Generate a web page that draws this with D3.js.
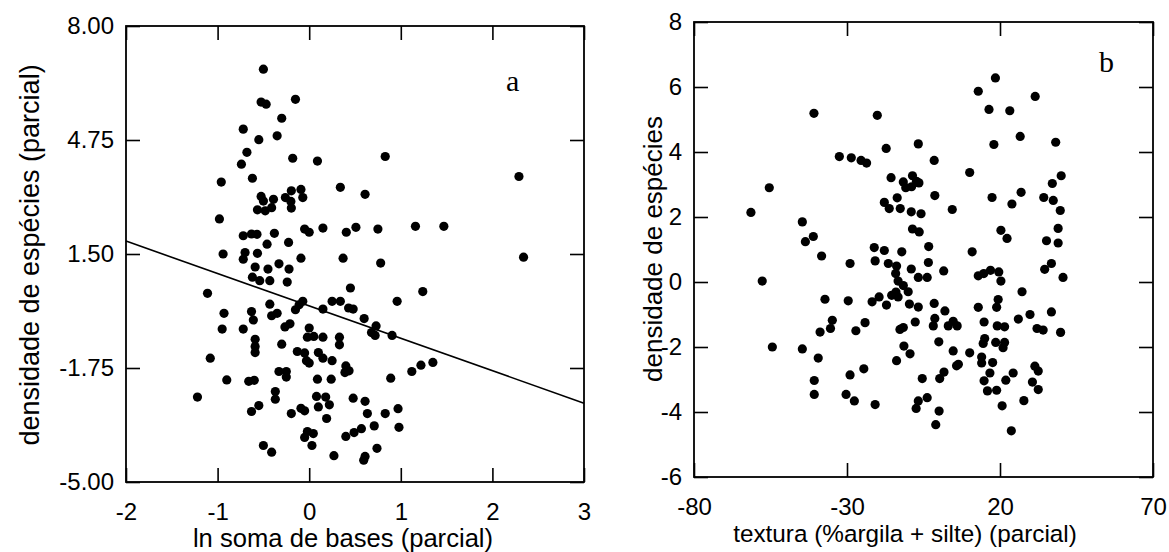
<!DOCTYPE html>
<html lang="pt">
<head>
<meta charset="UTF-8">
<title>Densidade de espécies - parcial</title>
<style>
  body { margin: 0; background: #fff; }
  svg text { font-family: "Liberation Sans", Arial, sans-serif; fill: #000; }
</style>
</head>
<body>
<div id="chart"></div>
<script src="https://d3js.org/d3.v7.min.js"></script>
<script>
// panel a: ln soma de bases (parcial) vs densidade de especies (parcial)
var basesX = [-0.50,-0.525,-0.47,-0.15,-0.30,-0.72,-0.55,-0.35,-0.68,-0.74,-0.18,0.09,-0.62,-0.96,0.34,
  -0.525,-0.50,-0.39,-0.41,-0.565,-0.48,-0.26,-0.195,-0.20,-0.195,-0.09,-0.07,-0.98,-0.72,-0.63,-0.57,
  -0.38,-0.46,-0.225,-0.05,0.0,0.15,0.405,0.83,0.61,2.29,0.51,0.75,1.16,1.47,
  -0.94,-0.70,-0.72,-0.565,-0.09,0.37,-0.59,-0.45,-0.33,-0.22,-0.62,-0.54,-0.43,-0.24,-1.11,-0.43,
  -0.07,-0.11,-0.15,0.15,0.25,0.34,0.43,-0.93,-0.63,-0.61,-0.41,-0.35,-0.95,-0.72,-0.265,-0.21,
  0.0,-0.02,0.05,0.15,0.33,0.33,-0.59,-0.59,-0.59,-0.30,-0.13,-0.05,-0.03,0.0,0.10,0.15,0.25,0.40,0.39,
  -1.08,-0.33,-0.25,-0.25,-0.90,-0.66,-0.60,0.09,0.24,-1.22,-0.37,-0.37,0.08,0.18,0.10,0.22,-0.55,-0.63,
  -0.195,-0.09,-0.05,0.19,-0.02,0.045,-0.05,0.03,0.40,-0.50,-0.41,0.27,
  0.78,2.34,0.45,1.24,0.96,0.48,0.60,0.73,0.68,0.72,0.905,0.435,1.12,1.22,1.35,0.89,0.48,0.61,0.635,
  0.83,0.97,0.71,0.98,0.49,0.57,0.74,0.61,0.595];
var densA = [6.77,5.83,5.77,5.91,5.37,5.06,4.76,4.87,4.40,4.06,4.23,4.15,3.66,3.55,3.40,
  3.14,3.01,3.06,2.82,2.76,2.73,3.11,3.30,3.00,2.81,3.34,3.11,2.50,2.02,2.07,2.06,
  2.09,1.78,1.83,2.21,2.12,2.24,2.12,4.28,3.20,3.71,2.26,2.21,2.29,2.29,
  1.50,1.54,1.35,1.52,1.38,1.38,1.13,1.07,1.22,1.07,0.84,0.74,0.74,0.70,0.38,0.07,
  0.15,0.05,-0.09,-0.07,0.15,0.15,-0.04,-0.19,-0.14,-0.38,-0.26,-0.19,-0.64,-0.64,-0.58,-0.49,
  -0.61,-0.87,-0.85,-0.87,-0.87,-1.09,-0.93,-1.14,-1.31,-1.07,-1.28,-1.32,-1.54,-1.61,-1.31,-1.47,-1.54,-1.69,-1.88,
  -1.47,-1.85,-1.85,-2.01,-2.09,-2.13,-2.10,-2.07,-2.07,-2.58,-2.42,-2.64,-2.56,-2.58,-2.86,-2.80,-2.82,-2.99,
  -3.05,-2.90,-2.97,-3.19,-3.56,-3.62,-3.73,-3.96,-3.70,-3.96,-4.15,-4.25,
  1.24,1.41,0.53,0.43,0.15,-0.07,-0.34,-0.55,-0.74,-0.82,-0.82,-1.83,-1.85,-1.67,-1.59,-2.04,-2.61,-2.70,-3.05,
  -3.05,-2.91,-3.40,-3.44,-3.59,-3.48,-4.04,-4.27,-4.38];
var fitIntercept = 0.02, fitSlope = -0.924;
var ticksAx = [-2, -1, 0, 1, 2, 3];
var ticksAy = [-5, -1.75, 1.5, 4.75, 8];

// panel b: textura (%argila + silte) (parcial) vs densidade de especies
var texturaX = [-40.8,-20.1,-6.7,-17.2,-32.5,-28.6,-25.4,-23.6,-55.4,-15.6,-11.6,-8.6,-7.3,-10.8,-8.9,-6.5,
  -61.4,-17.8,-16.2,-12.6,-13.6,-9.0,-5.8,-44.6,-41.0,-43.6,-8.6,-6.4,-21.1,-17.8,-12.1,-3.3,
  18.5,12.9,31.5,16.4,23.2,26.6,18.0,38.2,-1.5,10.1,37.1,40.0,-1.3,17.4,23.9,26.9,34.3,37.4,39.7,4.4,
  20.3,22.3,39.0,35.2,39.0,10.9,
  -38.3,-29.0,-20.8,-16.5,-13.8,-14.1,-13.3,-9.0,-6.7,-3.8,-3.4,-57.7,-11.6,-14.0,-10.0,-13.3,-15.4,
  -37.2,-29.6,-21.8,-19.5,-17.1,-9.6,-6.7,-34.8,-35.4,-38.8,-24.1,-27.1,-12.7,-11.6,-7.7,-54.4,-44.6,
  -39.4,-11.4,-9.4,-13.8,-24.5,-29.0,-40.7,-40.7,-30.3,-27.6,-20.8,-5.4,-6.7,-7.4,-3.8,
  1.6,12.9,14.7,16.9,19.6,20.3,34.6,36.8,40.6,27.2,-1.5,2.0,12.9,18.9,19.4,-1.3,-1.8,3.1,4.7,6.0,14.8,
  19.1,21.5,26.0,29.8,36.8,32.1,34.1,39.8,0.0,4.7,10.1,15.0,14.5,18.6,21.5,21.0,14.0,14.0,17.6,5.8,6.4,
  0.3,1.7,16.7,14.8,24.3,21.9,31.4,32.5,30.6,32.5,15.9,18.9,0.1,27.8,20.7,-1.0,23.7];
var densB = [5.19,5.13,4.25,4.11,3.86,3.82,3.74,3.66,2.90,3.21,3.08,3.27,3.10,2.90,2.93,3.05,
  2.14,2.45,2.26,2.26,2.59,2.16,2.10,1.85,1.40,1.24,1.63,1.54,1.06,0.97,0.93,1.09,
  6.28,5.87,5.71,5.31,5.27,4.48,4.23,4.30,3.74,3.37,3.03,3.27,2.66,2.60,2.40,2.76,2.60,2.51,2.20,2.23,
  1.59,1.34,1.65,1.27,1.20,0.93,
  0.80,0.57,0.65,0.57,0.49,0.26,0.03,0.40,0.14,0.14,0.60,0.03,-0.11,-0.31,-0.30,-0.46,-0.41,
  -0.53,-0.58,-0.61,-0.46,-0.71,-0.68,-0.77,-1.18,-1.43,-1.54,-1.25,-1.50,-1.46,-1.40,-1.23,-2.00,-2.06,
  -2.34,-1.97,-2.21,-2.42,-2.67,-2.86,-3.03,-3.46,-3.46,-3.66,-3.77,-2.97,-3.66,-3.89,-3.56,
  0.34,0.19,0.26,0.36,0.31,0.03,0.39,0.57,0.14,-0.30,-0.66,-0.89,-0.78,-0.78,-0.54,-1.12,-1.35,-1.35,-1.21,-1.35,-1.23,
  -1.35,-1.38,-1.14,-1.00,-0.92,-1.43,-1.48,-1.55,-1.84,-2.12,-2.18,-1.74,-1.89,-1.86,-1.86,-2.02,-2.31,-2.49,-2.48,-2.58,-2.53,
  -2.97,-2.77,-2.80,-3.04,-2.80,-3.02,-2.59,-2.74,-3.08,-3.31,-3.35,-3.33,-3.97,-3.65,-3.81,-4.39,-4.58];
var ticksBx = [-80, -30, 20, 70];
var ticksBy = [-6, -4, -2, 0, 2, 4, 6, 8];

// plain hyphen as minus sign, like the original
var loc = d3.formatLocale({ decimal: ".", thousands: ",", grouping: [3], currency: ["", ""], minus: "-" });

var W = 1169, H = 552;
var svg = d3.select("#chart").append("svg")
  .attr("width", W).attr("height", H);

function panel(opt) {
  var x = d3.scaleLinear().domain(opt.xDomain).range([opt.left, opt.right]);
  var y = d3.scaleLinear().domain(opt.yDomain).range([opt.bottom, opt.top]);
  var g = svg.append("g");
  var tick = 14;

  // inner ticks on all four sides, labels only bottom/left
  g.append("g")
    .attr("transform", "translate(0," + opt.bottom + ")")
    .call(d3.axisBottom(x).tickValues(opt.xTicks).tickSizeInner(-tick).tickSizeOuter(0).tickPadding(21).tickFormat(opt.xFmt));
  g.append("g")
    .attr("transform", "translate(0," + opt.top + ")")
    .call(d3.axisTop(x).tickValues(opt.xTicks).tickSizeInner(-tick).tickSizeOuter(0).tickFormat(""));
  g.append("g")
    .attr("transform", "translate(" + opt.left + ",0)")
    .call(d3.axisLeft(y).tickValues(opt.yTicks).tickSizeInner(-tick).tickSizeOuter(0).tickPadding(12).tickFormat(opt.yFmt));
  g.append("g")
    .attr("transform", "translate(" + opt.right + ",0)")
    .call(d3.axisRight(y).tickValues(opt.yTicks).tickSizeInner(-tick).tickSizeOuter(0).tickFormat(""));

  g.selectAll(".domain").remove();
  g.selectAll(".tick line").attr("stroke", "#000").attr("stroke-width", 1.6);
  g.selectAll(".tick text").style("font-size", "24px");

  g.append("rect")
    .attr("x", opt.left).attr("y", opt.top)
    .attr("width", opt.right - opt.left).attr("height", opt.bottom - opt.top)
    .attr("fill", "none").attr("stroke", "#000").attr("stroke-width", 1.8);

  g.selectAll("circle.pt")
    .data(d3.zip(opt.xs, opt.ys))
    .enter().append("circle")
    .attr("class", "pt")
    .attr("cx", function (d) { return x(d[0]); })
    .attr("cy", function (d) { return y(d[1]); })
    .attr("r", 4.6)
    .attr("fill", "#000");

  g.append("text")
    .attr("x", opt.xLabelX).attr("y", opt.bottom + 65)
    .attr("text-anchor", "middle").style("font-size", opt.xLabelSize + "px")
    .text(opt.xLabel);
  g.append("text")
    .attr("transform", "translate(" + opt.yLabelX + "," + opt.yLabelY + ") rotate(-90)")
    .attr("text-anchor", "middle").style("font-size", opt.yLabelSize + "px")
    .text(opt.yLabel);
  g.append("text")
    .attr("x", opt.letterX).attr("y", opt.letterY)
    .style("font-family", "'Liberation Serif', 'Times New Roman', serif")
    .style("font-size", "30px")
    .text(opt.letter);

  return { x: x, y: y, g: g };
}

var pa = panel({
  left: 126, right: 584, top: 26, bottom: 482,
  xDomain: [-2, 3], yDomain: [-5, 8],
  xTicks: ticksAx, yTicks: ticksAy,
  xFmt: loc.format("d"), yFmt: loc.format(".2f"),
  xs: basesX, ys: densA,
  xLabel: "ln soma de bases (parcial)", xLabelX: 343, xLabelSize: 25.6,
  yLabel: "densidade de espécies (parcial)", yLabelX: 39, yLabelY: 255, yLabelSize: 27,
  letter: "a", letterX: 506, letterY: 91
});

// regression line for panel a
var lineA = d3.line()
  .x(function (d) { return pa.x(d); })
  .y(function (d) { return pa.y(fitIntercept + fitSlope * d); });
pa.g.append("path")
  .datum([-2, 3])
  .attr("d", lineA)
  .attr("fill", "none").attr("stroke", "#000").attr("stroke-width", 1.6);

panel({
  left: 694, right: 1153, top: 22, bottom: 477,
  xDomain: [-80, 70], yDomain: [-6, 8],
  xTicks: ticksBx, yTicks: ticksBy,
  xFmt: loc.format("d"), yFmt: loc.format("d"),
  xs: texturaX, ys: densB,
  xLabel: "textura (%argila + silte) (parcial)", xLabelX: 905, xLabelSize: 24.3,
  yLabel: "densidade de espécies", yLabelX: 662, yLabelY: 249, yLabelSize: 26,
  letter: "b", letterX: 1099, letterY: 72
});
</script>
</body>
</html>
